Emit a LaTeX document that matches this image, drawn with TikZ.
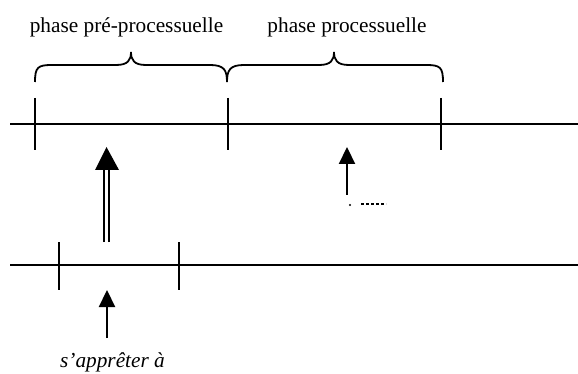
\documentclass[tikz,border=0pt]{standalone}
\usepackage{fontspec}
\setmainfont{Liberation Serif}
\usetikzlibrary{arrows.meta}
\begin{document}
\begin{tikzpicture}[x=1pt,y=-1pt,
  axis/.style={line width=1.8pt},
  tick/.style={line width=1.8pt},
  brace/.style={line width=1.8pt},
  arr/.style={line width=2.2pt,-{Triangle[length=17pt,width=16pt]}},
  lbl/.style={font=\fontsize{21.3}{25}\selectfont, inner sep=0pt, anchor=base}]
\useasboundingbox (0,0) rectangle (578,374);
% labels
\node[lbl] (pre) at (126.5,33) {phase pré-processuelle};
\node[lbl] (proc) at (347,33) {phase processuelle};
% braces
\draw[brace] (35,82) .. controls (35,67) and (38,65) .. (52,65) -- (116,65) .. controls (128,65) and (131,60) .. (131,52)
  .. controls (131,60) and (134,65) .. (146,65) -- (210,65) .. controls (224,65) and (227,70) .. (227,82)
  .. controls (227,70) and (230,65) .. (244,65) -- (319,65) .. controls (331,65) and (334,60) .. (334,52)
  .. controls (334,60) and (337,65) .. (349,65) -- (426,65) .. controls (440,65) and (443,67) .. (443,82);
% top axis
\coordinate (t0) at (10,124);
\coordinate (t1) at (578,124);
\draw[axis] (t0) -- (t1);
\draw[tick] (35,98) -- (35,150);
\draw[tick] (228,98) -- (228,150);
\draw[tick] (441,98) -- (441,150);
% bottom axis
\coordinate (b0) at (10,265);
\coordinate (b1) at (578,265);
\draw[axis] (b0) -- (b1);
\draw[tick] (59,242) -- (59,290);
\draw[tick] (179,242) -- (179,290);
% double arrow
\coordinate (d0) at (106.5,242);
\coordinate (d1) at (106.5,147);
\draw[line width=1.8pt] (104,242) -- (104,166);
\draw[line width=1.8pt] (109,242) -- (109,166);
\fill (95,170) -- (106.5,147) -- (119,170) -- cycle;
% single arrow top
\coordinate (a0) at (347,195);
\coordinate (a1) at (347,147);
\draw[arr] (a0) -- (a1);
% clipped fragment
\fill (350,205) circle (1.2pt);
\draw[line width=1.4pt, dash pattern=on 3pt off 2pt] (361,204) -- (386,204);
% bottom arrow
\coordinate (c0) at (107,338);
\coordinate (c1) at (107,290);
\draw[arr] (c0) -- (c1);
\node[lbl, font=\fontsize{21.3}{25}\selectfont\itshape] (sa) at (112.5,367) {s’apprêter à};
\end{tikzpicture}
\end{document}
